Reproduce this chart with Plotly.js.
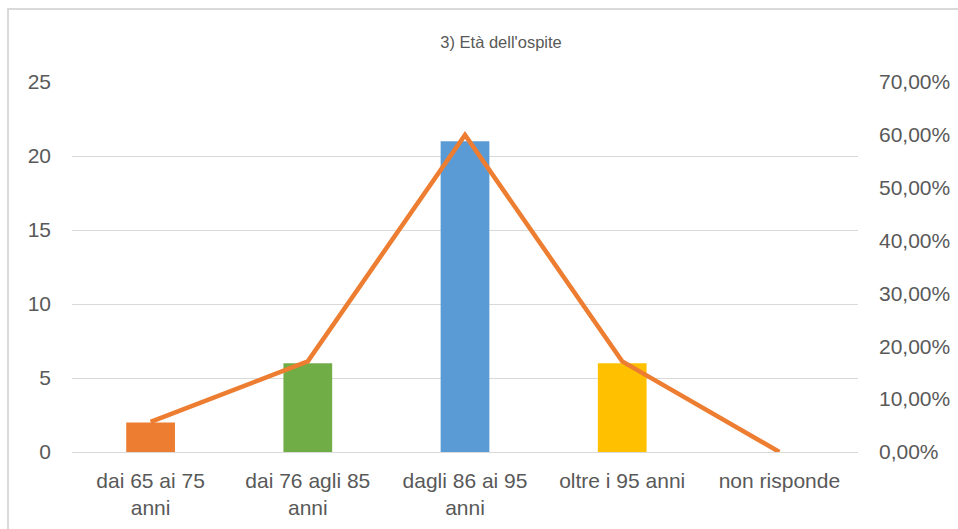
<!DOCTYPE html>
<html>
<head>
<meta charset="utf-8">
<script src="https://cdn.plot.ly/plotly-3.0.1.min.js"></script>
<style>
html,body{margin:0;padding:0;background:#fff;overflow:hidden;}
#frame{position:absolute;left:7px;top:8px;width:1000px;height:519px;border-left:2px solid #d9d9d9;border-top:2px solid #d9d9d9;pointer-events:none;z-index:10;}
#chart{position:absolute;left:0;top:0;width:958px;height:529px;}
</style>
</head>
<body>
<div id="chart"></div>
<div id="frame"></div>
<script>
const categories = ["dai 65 ai 75<br>anni", "dai 76 agli 85<br>anni", "dagli 86 ai 95<br>anni", "oltre i 95 anni", "non risponde"];
const counts = [2, 6, 21, 6, 0];
const shares = [0.0571, 0.1714, 0.60, 0.1714, 0];
const barColors = ["#ED7D31", "#70AD47", "#5B9BD5", "#FFC000", "#A5A5A5"];
const titleText = "3) Età dell'ospite";

const font = "'Liberation Sans', Arial, sans-serif";
const grey = "#595959";

const traces = [
  {
    type: "bar",
    x: categories,
    y: counts,
    marker: {color: barColors},
    width: 0.31,
    yaxis: "y",
    hoverinfo: "x+y"
  },
  {
    type: "scatter",
    mode: "lines",
    x: categories,
    y: shares,
    line: {color: "#ED7D31", width: 4.5},
    yaxis: "y2"
  }
];

const layout = {
  width: 958,
  height: 529,
  margin: {l: 72, r: 100, t: 82, b: 77},
  paper_bgcolor: "#ffffff",
  plot_bgcolor: "#ffffff",
  separators: ",.",
  showlegend: false,
  font: {family: font, color: grey, size: 21},
  title: {text: titleText, x: 0.523, xanchor: "center", y: 0.92, yanchor: "middle", font: {family: font, size: 16.5, color: grey}},
  xaxis: {
    type: "category",
    range: [-0.5, 4.5],
    showgrid: false,
    showline: false,
    zeroline: false,
    ticks: "",
    tickfont: {family: font, size: 21, color: grey},
    ticklabelstandoff: 14
  },
  yaxis: {
    range: [0, 25],
    dtick: 5,
    showgrid: true,
    gridcolor: "#d9d9d9",
    gridwidth: 1,
    zeroline: true,
    zerolinecolor: "#d9d9d9",
    zerolinewidth: 1,
    showline: false,
    ticks: "",
    tickfont: {family: font, size: 21, color: grey},
    ticklabelstandoff: 20,
    fixedrange: true
  },
  yaxis2: {
    range: [0, 0.7],
    dtick: 0.1,
    tickformat: ".2%",
    overlaying: "y",
    side: "right",
    showgrid: false,
    zeroline: false,
    showline: false,
    ticks: "",
    tickfont: {family: font, size: 21, color: grey},
    ticklabelstandoff: 20
  }
};

Plotly.newPlot("chart", traces, layout, {displayModeBar: false, staticPlot: true});
</script>
</body>
</html>
